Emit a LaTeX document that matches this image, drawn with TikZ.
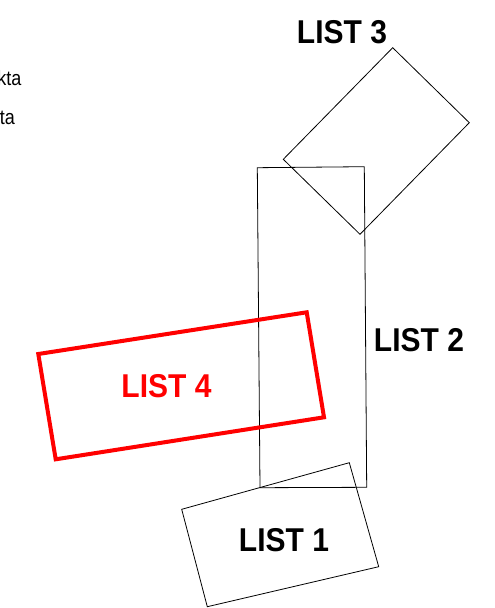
\documentclass[tikz,border=0pt]{standalone}
\usepackage{fontspec}
\setmainfont{Liberation Sans}
\definecolor{listred}{RGB}{255,0,0}
\begin{document}
\begin{tikzpicture}[x=1pt,y=-1pt,
  thinbox/.style={draw=black,line width=0.8pt,line join=miter},
  redbox/.style={draw=listred,line width=4pt,line join=miter},
  biglabel/.style={anchor=base,inner sep=0pt,font=\fontsize{30}{30}\selectfont\bfseries},
  smalltext/.style={anchor=base east,inner sep=0pt,font=\fontsize{18}{18}\selectfont}]
\useasboundingbox (0,0) rectangle (495,608);
\fill[white] (0,0) rectangle (495,608);
% corners
\coordinate (t1) at (392.7,47.7);
\coordinate (t2) at (469.3,122.7);
\coordinate (t3) at (360,234.3);
\coordinate (t4) at (283.3,159.3);
\coordinate (s1) at (257.3,167.7);
\coordinate (s2) at (364.3,166.7);
\coordinate (s3) at (366.7,487.3);
\coordinate (s4) at (260,487.7);
\coordinate (o1) at (181.7,509.3);
\coordinate (o2) at (349.3,462.7);
\coordinate (o3) at (378.7,566.7);
\coordinate (o4) at (207.3,606.7);
\coordinate (f1) at (38.3,354);
\coordinate (f2) at (306.7,312.3);
\coordinate (f3) at (324,417.3);
\coordinate (f4) at (55.7,459.3);
% boxes
\draw[thinbox] (t1) -- (t2) -- (t3) -- (t4) -- cycle;
\draw[thinbox] (s1) -- (s2) -- (s3) -- (s4) -- cycle;
\draw[thinbox] (o1) -- (o2) -- (o3) -- (o4) -- cycle;
\draw[redbox] (f1) -- (f2) -- (f3) -- (f4) -- cycle;
% labels
\node[biglabel] (l3) at (342,43.3) {\scalebox{1}[1.1]{LIST 3}};
\node[biglabel] (l2) at (419,351) {\scalebox{1}[1.1]{LIST 2}};
\node[biglabel,text=listred] (l4) at (166.5,397.3) {\scalebox{1}[1.1]{LIST 4}};
\node[biglabel] (l1) at (284,551) {\scalebox{1}[1.1]{LIST 1}};
\node[smalltext] (k1) at (21.5,85) {\scalebox{1}[1.15]{kta}};
\node[smalltext] (k2) at (15,124.5) {\scalebox{1}[1.15]{ta}};
\end{tikzpicture}
\end{document}
